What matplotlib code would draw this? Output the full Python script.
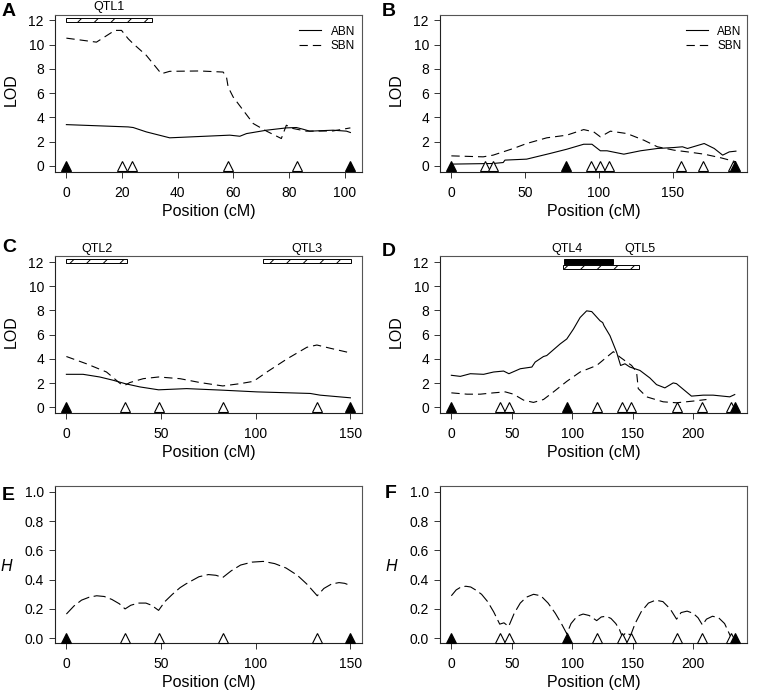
import matplotlib

matplotlib.use("Agg")
import matplotlib.pyplot as plt
from matplotlib.lines import Line2D
from matplotlib.patches import Rectangle

plt.rcParams["font.family"] = ["Liberation Sans", "DejaVu Sans"]
plt.rcParams["hatch.linewidth"] = 0.7

# ---- marker positions (cM) per chromosome ----
chr_a_filled = [0, 102]
chr_a_open = [19.8, 23.4, 57.9, 83.0]
chr_b_filled = [0, 77.5, 192.3]
chr_b_open = [22.7, 28.3, 94.8, 100.5, 106.6, 155.3, 170.7, 190.5]
chr_c_filled = [0, 150]
chr_c_open = [31.0, 48.7, 82.6, 132.5]
chr_d_filled = [0, 95.5, 234.9]
chr_d_open = [39.9, 47.4, 120.2, 141.4, 148.3, 186.3, 207.7, 231.6]

# ---- LOD profiles ----
a_abn_pos = [0, 22.2, 24, 28.7, 37.1, 58.7, 62.3, 64.7, 71.9, 79, 82.6, 85, 87.4, 95.8, 100.6, 102]
a_abn_lod = [3.40, 3.21, 3.16, 2.80, 2.31, 2.53, 2.44, 2.66, 2.94, 3.13, 3.16, 3.02, 2.86, 2.94, 2.86, 2.75]
a_sbn_pos = [0, 10.8, 17.4, 19.8, 22.2, 24, 28.7, 34.1, 37.1, 47.9, 56.3, 57.5, 58.1, 59.9,
             67.1, 71.9, 76, 77.2, 79, 81.4, 86.2, 95.8, 102]
a_sbn_lod = [10.54, 10.21, 11.18, 11.18, 10.49, 10.08, 9.12, 7.6, 7.8, 7.83, 7.74, 7.33, 6.5, 5.68,
             3.49, 2.86, 2.39, 2.25, 3.35, 3.08, 2.86, 2.88, 3.13]

b_abn_pos = [0, 28.3, 35.1, 36.3, 51, 66.9, 78.2, 89.6, 95.2, 100.9, 105.4, 116.8, 128.1, 139.5,
             150.8, 156.5, 159.9, 171.2, 178, 183.7, 188.2, 192.7]
b_abn_lod = [0.14, 0.19, 0.27, 0.47, 0.55, 1.02, 1.37, 1.78, 1.78, 1.24, 1.24, 0.96, 1.24, 1.43,
             1.51, 1.57, 1.43, 1.84, 1.43, 0.88, 1.15, 1.21]
b_sbn_pos = [0, 21.5, 28.3, 42, 51, 64.6, 78.2, 89.6, 96.4, 100.9, 107.7, 119, 130.4, 139.5,
             150.8, 159.9, 171.2, 182.5, 192.7]
b_sbn_lod = [0.82, 0.74, 0.88, 1.43, 1.84, 2.31, 2.53, 2.99, 2.8, 2.39, 2.86, 2.66, 2.11, 1.57,
             1.29, 1.15, 0.96, 0.66, 0.33]

c_abn_pos = [0, 8.8, 17.6, 24.7, 31, 38.8, 48.7, 63.5, 82.6, 100.6, 128.8, 134, 150]
c_abn_lod = [2.73, 2.73, 2.51, 2.24, 1.96, 1.69, 1.45, 1.55, 1.42, 1.28, 1.15, 1.01, 0.79]
c_sbn_pos = [0, 10.6, 21.2, 29.1, 31, 33.5, 40.6, 48.7, 60, 70.6, 82.6, 91.8, 98.8, 105.9,
             116.5, 127, 132.3, 139.4, 150]
c_sbn_lod = [4.2, 3.6, 2.92, 1.88, 1.83, 2.05, 2.37, 2.51, 2.37, 2.05, 1.77, 1.96, 2.15, 2.92,
             4.0, 4.96, 5.15, 4.88, 4.5]

d_abn_pos = [0, 7.4, 15.7, 26.7, 34.9, 43.2, 47.6, 57, 66.6, 69.3, 76.2, 78.9, 90, 95.5, 101,
             106.5, 111.9, 116.1, 123, 125.2, 126.3, 131.2, 136.7, 140, 143.6, 147.7, 156, 164.2,
             169.7, 176.6, 183.5, 186.2, 198.6, 208.3, 216.5, 230.3, 234.4]
d_abn_lod = [2.65, 2.56, 2.78, 2.73, 2.92, 3.0, 2.78, 3.19, 3.33, 3.74, 4.2, 4.28, 5.24, 5.65, 6.47,
             7.42, 7.97, 7.91, 7.15, 7.0, 6.74, 5.92, 4.55, 3.46, 3.6, 3.33, 3.05, 2.43,
             1.88, 1.61, 2.02, 1.96, 0.93, 1.01, 1.01, 0.87, 1.06]
d_sbn_pos = [0, 12.9, 23.9, 34.9, 44.6, 51.4, 59.7, 67.9, 76.2, 84.5, 95.5, 106.5, 120.2, 128.5,
             134, 139.5, 149.1, 153.2, 154.6, 161.5, 175.2, 186.2, 200, 211]
d_sbn_lod = [1.2, 1.09, 1.09, 1.2, 1.28, 1.09, 0.6, 0.41, 0.65, 1.28, 2.15, 2.92, 3.46, 4.15,
             4.6, 4.15, 3.46, 2.92, 1.55, 0.87, 0.46, 0.38, 0.52, 0.65]

# ---- heterozygosity H ----
e_pos = [0, 4, 8, 12, 16, 20, 24, 28, 31, 34, 38, 42, 45, 48.7, 52, 56, 60, 63, 70, 75, 79, 82.6,
         87, 92, 98, 104, 110, 116, 122, 127, 132.5, 136, 140, 144, 147, 150]
e_h = [0.165, 0.22, 0.26, 0.28, 0.29, 0.285, 0.265, 0.235, 0.2, 0.225, 0.24, 0.24, 0.225, 0.19,
       0.25, 0.3, 0.345, 0.37, 0.42, 0.435, 0.43, 0.415, 0.46, 0.5, 0.52, 0.525, 0.51, 0.48,
       0.43, 0.37, 0.29, 0.34, 0.37, 0.38, 0.375, 0.36]
f_pos = [0, 4, 8, 12, 16, 20, 25, 30, 35, 40, 43.5, 47.4, 52, 57, 62, 68, 74, 80, 86, 91, 95.5,
         99, 104, 109, 114, 120.2, 124, 128, 132, 136, 139, 141.4, 144.5, 148.3, 152, 157, 163,
         169, 175, 181, 186.3, 190, 195, 200, 204, 207.7, 211, 216, 221, 226, 231.6]
f_h = [0.29, 0.33, 0.35, 0.355, 0.35, 0.33, 0.3, 0.25, 0.18, 0.096, 0.105, 0.08, 0.17, 0.24,
       0.28, 0.3, 0.29, 0.24, 0.17, 0.1, 0.03, 0.1, 0.15, 0.165, 0.155, 0.12, 0.145, 0.15, 0.135,
       0.1, 0.06, 0.01, 0.04, 0.02, 0.1, 0.18, 0.24, 0.26, 0.25, 0.2, 0.13, 0.175, 0.185, 0.17,
       0.14, 0.09, 0.13, 0.15, 0.14, 0.1, 0.0]

# ---- QTL intervals (start, end) ----
qtl1 = (0, 30.9)
qtl2 = (0, 32)
qtl3 = (104, 150.3)
qtl4 = (93.3, 133.4)
qtl5 = (92.2, 155.4)

SOLID = "-"
SBN_DASH = (0, (7.5, 4.5))
H_DASH = (0, (11, 4))
LW = 0.8


def style_axis(ax, filled, opened, xstep, ylim, yticks, yfmt):
    lo, hi = min(filled + opened), max(filled + opened)
    pad = 0.04 * (hi - lo)
    ax.set_xlim(lo - pad, hi + pad)
    ax.set_ylim(*ylim)
    ax.set_xticks(list(range(0, int(hi) + 1, xstep)))
    ax.set_yticks(yticks)
    ax.set_yticklabels([yfmt.format(v) for v in yticks])
    ax.tick_params(axis="both", direction="out", length=4, width=0.7, color="#333333",
                   labelsize=10)
    ax.tick_params(axis="x", pad=6)
    ax.tick_params(axis="y", pad=4)
    for side in ["top", "right"]:
        ax.spines[side].set_color("#555555")
        ax.spines[side].set_linewidth(0.8)
    for side in ["left", "bottom"]:
        ax.spines[side].set_color("#222222")
        ax.spines[side].set_linewidth(0.8)
    ax.set_xlabel("Position (cM)", fontsize=11.5, labelpad=3)
    # markers: open first, filled on top
    ax.plot(opened, [0] * len(opened), ls="none", marker="^", ms=7, mfc="white",
            mec="black", mew=0.8, clip_on=False, zorder=5)
    ax.plot(filled, [0] * len(filled), ls="none", marker="^", ms=7, mfc="black",
            mec="black", mew=0.8, clip_on=False, zorder=6)


def lod_panel(ax, filled, opened, xstep, abn, sbn, legend=None):
    ax.plot(abn[0], abn[1], color="black", lw=LW, ls=SOLID)
    ax.plot(sbn[0], sbn[1], color="black", lw=LW, ls=SBN_DASH)
    style_axis(ax, filled, opened, xstep, (-0.49, 12.49), list(range(0, 13, 2)), "{:d}")
    ax.set_ylabel("LOD", fontsize=11.5, va="center")
    ax.yaxis.set_label_coords(-0.142, 0.52)
    if legend is not None:
        handles = [Line2D([], [], color="black", lw=LW, ls=SOLID),
                   Line2D([], [], color="black", lw=LW, ls=SBN_DASH)]
        ax.legend(handles, ["ABN", "SBN"], loc="upper right", bbox_to_anchor=legend,
                  frameon=False, fontsize=8.5, handlelength=1.9, handletextpad=0.8,
                  labelspacing=0.2, borderpad=0, borderaxespad=0)


def h_panel(ax, filled, opened, pos, h):
    ax.plot(pos, h, color="black", lw=LW, ls=H_DASH)
    yt = [0.0, 0.2, 0.4, 0.6, 0.8, 1.0]
    style_axis(ax, filled, opened, 50, (-0.035, 1.04), yt, "{:.1f}")
    ax.set_ylabel("H", fontsize=11.5, style="italic", rotation=0, va="center", ha="center")
    ax.yaxis.set_label_coords(-0.16, 0.49)


def qtl_bar(ax, span, yc, height, hatched, label=None, label_x=None, label_y=13.05):
    x0, x1 = span
    if hatched:
        rect = Rectangle((x0, yc - height / 2), x1 - x0, height, facecolor="white",
                         edgecolor="black", hatch="//", lw=0.7, clip_on=False, zorder=4)
    else:
        rect = Rectangle((x0, yc - height / 2), x1 - x0, height, facecolor="black",
                         edgecolor="black", lw=0.7, clip_on=False, zorder=4)
    ax.add_patch(rect)
    if label is not None:
        if label_x is None:
            label_x = (x0 + x1) / 2
        ax.text(label_x, label_y, label, ha="center", va="center", fontsize=9,
                clip_on=False)


def main():
    fig = plt.figure(figsize=(7.59, 6.95), dpi=100)
    lefts = [0.0725, 0.5797]
    bottoms = [0.7529, 0.4053, 0.0744]
    w, h = 0.4041, 0.2262

    ax_a = fig.add_axes([lefts[0], bottoms[0], w, h])
    ax_b = fig.add_axes([lefts[1], bottoms[0], w, h])
    ax_c = fig.add_axes([lefts[0], bottoms[1], w, h])
    ax_d = fig.add_axes([lefts[1], bottoms[1], w, h])
    ax_e = fig.add_axes([lefts[0], bottoms[2], w, h])
    ax_f = fig.add_axes([lefts[1], bottoms[2], w, h])

    lod_panel(ax_a, chr_a_filled, chr_a_open, 20, (a_abn_pos, a_abn_lod),
              (a_sbn_pos, a_sbn_lod), legend=(0.978, 0.93))
    qtl_bar(ax_a, qtl1, 12.05, 0.33, True, "QTL1", label_y=13.1)

    lod_panel(ax_b, chr_b_filled, chr_b_open, 50, (b_abn_pos, b_abn_lod),
              (b_sbn_pos, b_sbn_lod), legend=(0.984, 0.93))

    lod_panel(ax_c, chr_c_filled, chr_c_open, 50, (c_abn_pos, c_abn_lod),
              (c_sbn_pos, c_sbn_lod))
    qtl_bar(ax_c, qtl2, 12.05, 0.33, True, "QTL2")
    qtl_bar(ax_c, qtl3, 12.05, 0.33, True, "QTL3")

    lod_panel(ax_d, chr_d_filled, chr_d_open, 50, (d_abn_pos, d_abn_lod),
              (d_sbn_pos, d_sbn_lod))
    qtl_bar(ax_d, qtl4, 12.04, 0.38, False, "QTL4", label_x=96)
    qtl_bar(ax_d, qtl5, 11.58, 0.3, True, "QTL5", label_x=156)

    h_panel(ax_e, chr_c_filled, chr_c_open, e_pos, e_h)
    h_panel(ax_f, chr_d_filled, chr_d_open, f_pos, f_h)

    letters = [("A", 2, 11), ("B", 382, 11), ("C", 2, 248), ("D", 382, 252),
               ("E", 2, 495), ("F", 385, 494)]
    for letter, px, py in letters:
        fig.text(px / 759, 1 - py / 695, letter, fontsize=14, fontweight="bold",
                 ha="left", va="center")

    fig.savefig("out.png", dpi=100)
    plt.close(fig)


if __name__ == "__main__":
    main()
